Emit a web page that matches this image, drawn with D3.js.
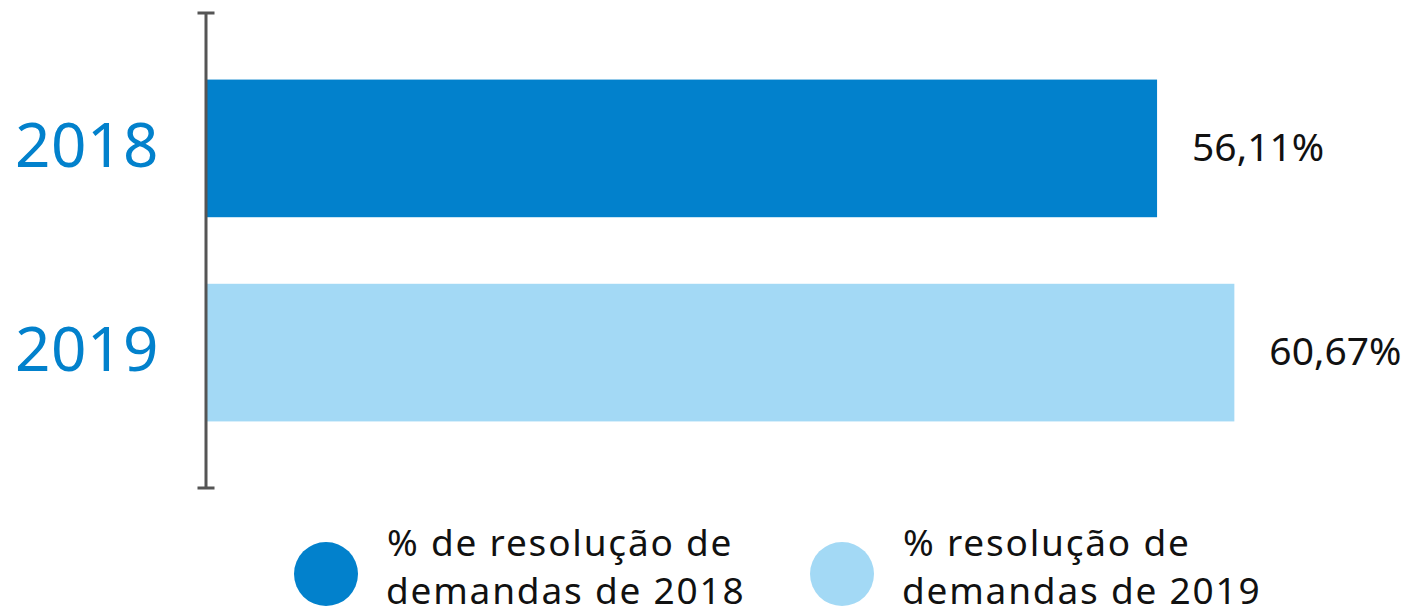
<!DOCTYPE html>
<html>
<head>
<meta charset="utf-8">
<script src="https://cdn.jsdelivr.net/npm/d3@7"></script>
<style>
  body { margin:0; background:#fff; }
  svg { display:block; }
</style>
</head>
<body>
<svg></svg>
<script>
var years = ["2018", "2019"]
var values = [56.11, 60.67]
var valueLabels = ["56,11%", "60,67%"]
var legendLines = [
  ["% de resolução de", "demandas de 2018"],
  ["% resolução de", "demandas de 2019"]
]
var colors = ["#0281cc", "#a3d9f5"]

var font = "'Noto Sans', sans-serif"

var svg = d3.select("svg")
svg.attr("width", 1414).attr("height", 615)

var x = d3.scaleLinear()
      .domain([0, 100])
      .range([206, 1901])
var y = d3.scaleBand()
      .domain(years)
      .range([13, 488])
      .padding(0.326)

var rows = svg.selectAll("g.row")
   .data(years)
   .enter()
   .append("g")
   .attr("class", "row")

rows.append("rect")
    .attr("x", x(0))
    .attr("y", d => y(d))
    .attr("width", (d, i) => x(values[i]) - x(0))
    .attr("height", y.bandwidth())
    .attr("fill", (d, i) => colors[i])

rows.append("text")
    .text((d, i) => valueLabels[i])
    .attr("x", (d, i) => x(values[i]) + 35)
    .attr("y", d => y(d) + y.bandwidth() / 2 - 1.5)
    .attr("dy", "0.36em")
    .style("font-family", font)
    .style("font-size", "39px")
    .attr("fill", "#111")

// year labels on the left
rows.append("text")
    .text(d => d)
    .attr("x", 15)
    .attr("y", d => y(d) + y.bandwidth() / 2 - 4)
    .attr("dy", "0.36em")
    .style("font-family", font)
    .style("font-size", "62px")
    .style("letter-spacing", "0.5px")
    .attr("fill", "#0281cc")

// axis line with caps
var axis = d3.axisLeft(y).tickValues([]).tickSizeOuter(17)
var gAxis = svg.append("g")
    .attr("transform", "translate(214.5,0)")
    .call(axis)
gAxis.select(".domain")
    .attr("stroke", "#555")
    .attr("stroke-width", 3)
    .attr("d", "M0,13H-17M-8.5,13V488M0,488H-17")

// legend
var legend = svg.selectAll("g.legend")
   .data(legendLines)
   .enter()
   .append("g")
   .attr("class", "legend")
   .attr("transform", (d, i) => "translate(" + (326 + i * 516) + ",574)")

legend.append("circle")
    .attr("r", 32)
    .attr("fill", (d, i) => colors[i])

legend.append("text")
    .style("font-family", font)
    .style("font-size", "37px")
    .style("letter-spacing", "1.8px")
    .attr("fill", "#111")
    .selectAll("tspan")
    .data(d => d)
    .enter()
    .append("tspan")
    .attr("x", (d, i) => i == 0 ? 61 : 60)
    .attr("y", (d, i) => -18 + i * 48)
    .text(d => d)
</script>
</body>
</html>
